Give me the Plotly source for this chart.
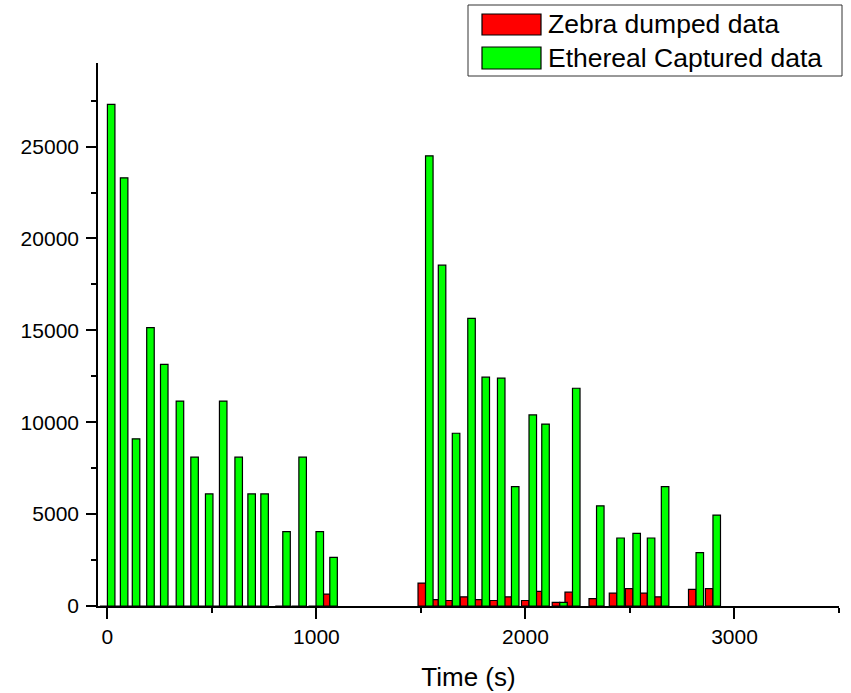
import plotly.graph_objects as go

# ---- data ----
times = [0, 62, 119, 188, 254, 329, 399, 469, 536, 610, 672, 734, 839, 916, 998, 1064,
         1522, 1583, 1650, 1724, 1792, 1866, 1933, 2017, 2078, 2164, 2225, 2340, 2437,
         2514, 2583, 2650, 2816, 2897]
zebra = [0, 0, 0, 0, 0, 0, 0, 0, 0, 0, 0, 0, 0, 0, 0, 650,
         1250, 350, 300, 500, 350, 300, 500, 300, 800, 200, 750, 400, 700,
         950, 700, 500, 900, 950]
ethereal = [27300, 23300, 9100, 15150, 13150, 11150, 8100, 6100, 11150, 8100, 6100, 6100,
            4050, 8100, 4050, 2650,
            24500, 18550, 9400, 15650, 12450, 12400, 6500, 10400, 9900, 200, 11850, 5450,
            3700, 3950, 3700, 6500, 2900, 4950]
series_names = ["Zebra dumped data", "Ethereal Captured data"]
x_tickvals = [0, 1000, 2000, 3000]
y_tickvals = [0, 5000, 10000, 15000, 20000, 25000]

RED = "#FF0000"
GREEN = "#00FF00"
FONT = "Arial, Liberation Sans, Helvetica, sans-serif"
BAR_W = 36

fig = go.Figure()
fig.add_trace(go.Bar(x=times, y=zebra, name=series_names[0], width=BAR_W, offset=-BAR_W,
                     marker=dict(color=RED, line=dict(color="black", width=1.2)),
                     showlegend=False))
fig.add_trace(go.Bar(x=times, y=ethereal, name=series_names[1], width=BAR_W, offset=0,
                     marker=dict(color=GREEN, line=dict(color="black", width=1.2)),
                     showlegend=False))

W, H = 851, 693
L, R, T, B = 98, 12, 63, 87
pw, ph = W - L - R, H - T - B

def px(xp):
    return (xp - L) / pw

def py(yp):
    return (H - B - yp) / ph

# ---- legend box drawn as layout shapes ----
shapes = [
    dict(type="rect", xref="paper", yref="paper", x0=px(468), x1=px(842), y0=py(76), y1=py(5),
         line=dict(color="#333333", width=1), fillcolor="white", layer="above"),
    dict(type="rect", xref="paper", yref="paper", x0=px(482), x1=px(541), y0=py(35), y1=py(14),
         line=dict(color="black", width=1.2), fillcolor=RED, layer="above"),
    dict(type="rect", xref="paper", yref="paper", x0=px(482), x1=px(541), y0=py(69), y1=py(47),
         line=dict(color="black", width=1.2), fillcolor=GREEN, layer="above"),
]
annotations = [
    dict(text=series_names[0], xref="paper", yref="paper", x=px(546), y=py(24.5),
         xanchor="left", yanchor="middle", showarrow=False,
         font=dict(family=FONT, size=26.5, color="black")),
    dict(text=series_names[1], xref="paper", yref="paper", x=px(546), y=py(58),
         xanchor="left", yanchor="middle", showarrow=False,
         font=dict(family=FONT, size=26.5, color="black")),
]

fig.update_layout(
    width=W, height=H,
    margin=dict(l=L, r=R, t=T, b=B, pad=0, autoexpand=False),
    paper_bgcolor="white", plot_bgcolor="white",
    barmode="overlay",
    showlegend=False,
    font=dict(family=FONT, color="black"),
    shapes=shapes,
    annotations=annotations,
    xaxis=dict(
        range=[-45, 3500], tickvals=x_tickvals, ticktext=[str(v) for v in x_tickvals],
        ticks="outside", ticklen=11, tickwidth=1.5, tickcolor="black",
        minor=dict(dtick=500, tick0=0, ticks="outside", ticklen=5.5, tickwidth=1.5, tickcolor="black"),
        showline=True, linecolor="black", linewidth=1.6, showgrid=False, zeroline=False,
        tickfont=dict(family=FONT, size=21, color="black"),
        ticklabelstandoff=0, automargin=False,
        title=dict(text="Time (s)", font=dict(family=FONT, size=26, color="black"), standoff=21),
    ),
    yaxis=dict(
        range=[0, 29550], tickvals=y_tickvals, ticktext=[str(v) for v in y_tickvals],
        ticks="outside", ticklen=10, tickwidth=1.5, tickcolor="black",
        minor=dict(dtick=2500, tick0=0, ticks="outside", ticklen=5, tickwidth=1.5, tickcolor="black"),
        showline=True, linecolor="black", linewidth=1.6, showgrid=False, zeroline=False,
        tickfont=dict(family=FONT, size=21, color="black"),
        ticklabelstandoff=3, automargin=False,
    ),
)

fig.write_html("out.html")
